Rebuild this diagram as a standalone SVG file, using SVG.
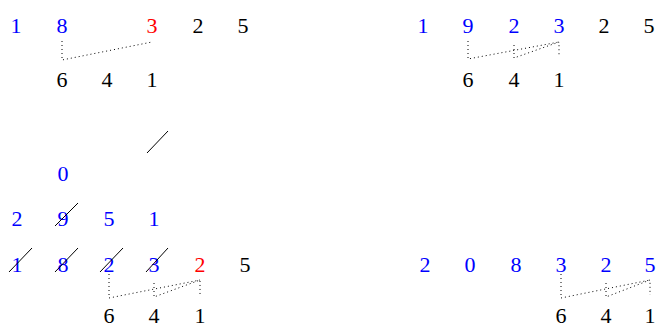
<svg xmlns="http://www.w3.org/2000/svg" width="659" height="327" viewBox="0 0 659 327">
<style>
text{font-family:"Liberation Serif","Times New Roman",serif;font-size:22px;text-anchor:middle}
.b{fill:#0000ff}.r{fill:#ff0000}.k{fill:#000}
.dot{fill:none;stroke:#000;stroke-width:1;stroke-dasharray:1 3}
.sl{stroke:#000;stroke-width:1;fill:none}
</style>
<rect width="659" height="327" fill="#fff"/>
<g id="panel1">
<text x="16" y="33" class="b">1</text><text x="62" y="33" class="b">8</text><text x="152" y="33" class="r">3</text><text x="198" y="33" class="k">2</text><text x="243" y="33" class="k">5</text>
<text x="62" y="87" class="k">6</text><text x="107" y="87" class="k">4</text><text x="152" y="87" class="k">1</text>
</g>
<g id="panel2">
<text x="423" y="33" class="b">1</text><text x="468" y="33" class="b">9</text><text x="514" y="33" class="b">2</text><text x="559" y="33" class="b">3</text><text x="604" y="33" class="k">2</text><text x="649" y="33" class="k">5</text>
<text x="468" y="87" class="k">6</text><text x="514" y="87" class="k">4</text><text x="559" y="87" class="k">1</text>
</g>
<g id="panel3">
<text x="63" y="181" class="b">0</text>
<text x="17" y="226" class="b">2</text><text x="63" y="226" class="b">9</text><text x="109" y="226" class="b">5</text><text x="154" y="226" class="b">1</text>
<text x="17" y="272" class="b">1</text><text x="63" y="272" class="b">8</text><text x="109" y="272" class="b">2</text><text x="154" y="272" class="b">3</text><text x="200" y="272" class="r">2</text><text x="245" y="272" class="k">5</text>
<text x="109" y="323" class="k">6</text><text x="154" y="323" class="k">4</text><text x="200" y="323" class="k">1</text>
</g>
<g id="panel4">
<text x="425" y="272" class="b">2</text><text x="470" y="272" class="b">0</text><text x="516" y="272" class="b">8</text><text x="561" y="272" class="b">3</text><text x="606" y="272" class="b">2</text><text x="650" y="272" class="b">5</text>
<text x="561" y="323" class="k">6</text><text x="606" y="323" class="k">4</text><text x="650" y="323" class="k">1</text>
</g>
<g id="connectors">
<polyline class="dot" points="62,41 62,60 152,42"/>
<polyline class="dot" points="468,41 468,59 559,42"/>
<polyline class="dot" points="514,45 514,58 559,42 559,57"/>
<polyline class="dot" points="109,274 109,298 200,280"/>
<polyline class="dot" points="154,283 154,297 200,280 200,295"/>
<polyline class="dot" points="561,274 561,298 650,280"/>
<polyline class="dot" points="606,283 606,297 650,280 650,295"/>
<line class="sl" x1="147" y1="153" x2="168" y2="131"/>
<line class="sl" x1="55" y1="226" x2="78" y2="203"/>
<line class="sl" x1="9" y1="272" x2="32" y2="248"/>
<line class="sl" x1="55" y1="272" x2="78" y2="248"/>
<line class="sl" x1="100" y1="272" x2="123" y2="248"/>
<line class="sl" x1="146" y1="272" x2="168" y2="248"/>
</g>
</svg>
